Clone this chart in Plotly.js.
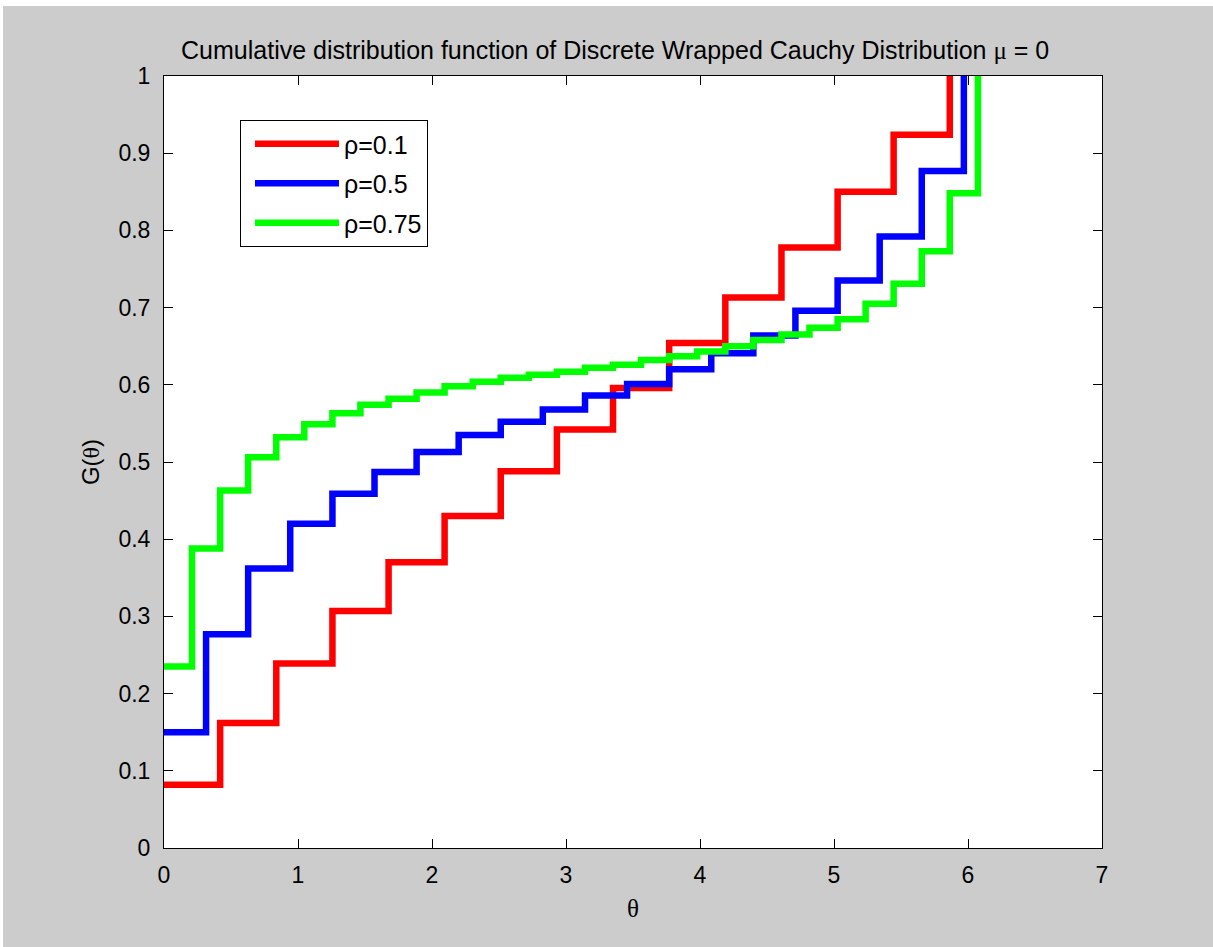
<!DOCTYPE html>
<html>
<head>
<meta charset="utf-8">
<script src="https://cdn.plot.ly/plotly-3.0.1.min.js"></script>
<style>
html,body{margin:0;padding:0;background:#ffffff;}
#plot{position:absolute;left:3px;top:6px;width:1210px;height:941px;}
</style>
</head>
<body>
<div id="plot"></div>
<script>
// theta grid points (radians) and cumulative probabilities
const thetaRho01 = [0, 0.419, 0.838, 1.257, 1.676, 2.094, 2.513, 2.932, 3.351, 3.770, 4.189, 4.608, 5.027, 5.445, 5.864];
const cdfRho01   = [0.082, 0.162, 0.239, 0.307, 0.370, 0.430, 0.488, 0.542, 0.596, 0.654, 0.713, 0.778, 0.850, 0.924, 1.0];

const thetaRho05 = [0, 0.314, 0.628, 0.942, 1.257, 1.571, 1.885, 2.199, 2.513, 2.827, 3.142, 3.456, 3.770, 4.084, 4.398, 4.712, 5.027, 5.341, 5.655, 5.969];
const cdfRho05   = [0.150, 0.277, 0.362, 0.420, 0.459, 0.487, 0.513, 0.535, 0.552, 0.568, 0.586, 0.601, 0.620, 0.641, 0.664, 0.696, 0.735, 0.792, 0.877, 1.0];

const thetaRho075 = [0, 0.209, 0.419, 0.628, 0.838, 1.047, 1.257, 1.466, 1.676, 1.885, 2.094, 2.304, 2.513, 2.723, 2.932, 3.142, 3.351, 3.560, 3.770, 3.979, 4.189, 4.398, 4.608, 4.817, 5.027, 5.236, 5.445, 5.655, 5.864, 6.074];
const cdfRho075   = [0.235, 0.388, 0.463, 0.506, 0.532, 0.549, 0.563, 0.574, 0.582, 0.590, 0.598, 0.604, 0.609, 0.613, 0.617, 0.622, 0.626, 0.632, 0.637, 0.643, 0.650, 0.658, 0.665, 0.674, 0.685, 0.705, 0.731, 0.773, 0.848, 1.0];

const seriesNames = ['ρ=0.1', 'ρ=0.5', 'ρ=0.75'];
const seriesColors = ['#ff0000', '#0000ff', '#00ff00'];

const xTicks = [0, 1, 2, 3, 4, 5, 6, 7];
const yTicks = [0, 0.1, 0.2, 0.3, 0.4, 0.5, 0.6, 0.7, 0.8, 0.9, 1];

const xs = [thetaRho01, thetaRho05, thetaRho075];
const ys = [cdfRho01, cdfRho05, cdfRho075];

const SANS = 'Liberation Sans, Arial, Helvetica, sans-serif';
const SERIF = 'Liberation Serif, DejaVu Serif, serif';

const traces = xs.map((x, i) => ({
  x: x,
  y: ys[i],
  type: 'scatter',
  mode: 'lines',
  name: seriesNames[i],
  legendgroup: 'g' + i,
  line: {shape: 'hv', color: seriesColors[i], width: 6.5}
}));

const axisCommon = {
  showline: true,
  linecolor: '#000000',
  linewidth: 1,
  mirror: 'ticks',
  ticks: 'inside',
  ticklen: 9,
  tickwidth: 1,
  tickcolor: '#000000',
  showgrid: false,
  zeroline: false,
  tickfont: {family: SANS, size: 23, color: '#000000'}
};

const layout = {
  width: 1210,
  height: 941,
  paper_bgcolor: '#cccccc',
  plot_bgcolor: '#ffffff',
  margin: {l: 161, r: 111, t: 70, b: 99, pad: 0},
  title: {
    text: 'Cumulative distribution function of Discrete Wrapped Cauchy Distribution <span style="font-family:Liberation Serif, serif">μ</span> = 0',
    font: {family: SANS, size: 25, color: '#000000'},
    x: 0.481, xref: 'paper', xanchor: 'center',
    y: 1 - 44 / 941, yref: 'container', yanchor: 'middle'
  },
  xaxis: Object.assign({}, axisCommon, {
    range: [0, 7],
    tickvals: xTicks,
    ticktext: xTicks.map(String),
    ticklabelstandoff: 6,
    title: {text: 'θ', font: {family: SERIF, size: 25, color: '#000000'}, standoff: 12}
  }),
  yaxis: Object.assign({}, axisCommon, {
    range: [0, 1],
    tickvals: yTicks,
    ticktext: yTicks.map(String),
    ticklabelstandoff: 8,
    title: {text: 'G(<span style="font-family:Liberation Serif, serif">θ</span>)', font: {family: SANS, size: 24, color: '#000000'}, standoff: 12}
  }),
  showlegend: true,
  legend: {
    x: 0.081, y: 0.943, xanchor: 'left', yanchor: 'top',
    bgcolor: '#ffffff',
    bordercolor: '#000000',
    borderwidth: 1,
    font: {family: SANS, size: 25, color: '#000000'},
    itemwidth: 84,
    indentation: 9,
    tracegroupgap: 4
  }
};

Plotly.newPlot('plot', traces, layout, {displayModeBar: false, staticPlot: true});
</script>
</body>
</html>
